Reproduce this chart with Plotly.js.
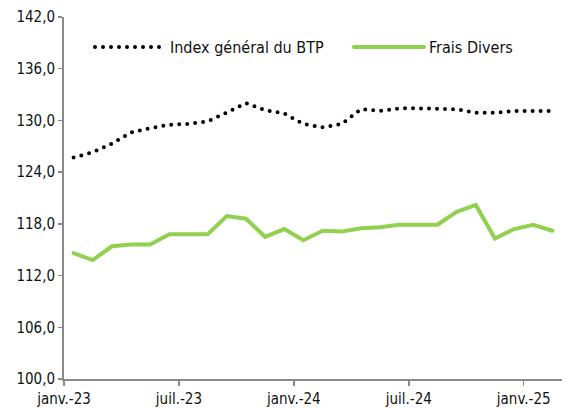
<!DOCTYPE html>
<html>
<head>
<meta charset="utf-8">
<script src="https://cdn.plot.ly/plotly-3.0.1.min.js"></script>
<style>
  html, body { margin: 0; padding: 0; background: #fff; }
  #chart { width: 566px; height: 408px; }
  path.js-line { stroke-linecap: round; }
</style>
</head>
<body>
<div id="chart"></div>
<script>
// Months: janv. 2023 -> févr. 2025
const months = ["2023-01","2023-02","2023-03","2023-04","2023-05","2023-06","2023-07","2023-08","2023-09","2023-10","2023-11","2023-12",
                "2024-01","2024-02","2024-03","2024-04","2024-05","2024-06","2024-07","2024-08","2024-09","2024-10","2024-11","2024-12",
                "2025-01","2025-02"];
const indexBTP = [125.7,126.3,127.3,128.6,129.1,129.5,129.6,129.9,130.9,132.0,131.2,130.8,
                  129.6,129.2,129.6,131.3,131.1,131.4,131.4,131.4,131.3,130.9,130.9,131.1,
                  131.1,131.1];
const fraisDivers = [114.6,113.8,115.4,115.6,115.6,116.8,116.8,116.8,118.9,118.6,116.5,117.4,
                     116.1,117.2,117.1,117.5,117.6,117.9,117.9,117.9,119.4,120.2,116.3,117.4,
                     117.9,117.2];
const tickLabels = ["janv.-23","juil.-23","janv.-24","juil.-24","janv.-25"];
const tickMonths = ["2023-01","2023-07","2024-01","2024-07","2025-01"];
const seriesNames = ["Index général du BTP","Frais Divers"];

const xIdx = months.map((m, i) => i);
// ticks sit on the boundary before each labelled month
const tickVals = tickMonths.map(m => months.indexOf(m) - 0.5);

const FONT = "'DejaVu Sans Condensed', 'DejaVu Sans', sans-serif";
const AXIS = "#8a8a8a";
const TEXT = "#111111";

const traces = [
  { x: xIdx, y: indexBTP, name: seriesNames[0], type: "scatter", mode: "lines",
    line: { color: "#000000", width: 4, dash: "0px,8px" }, legend: "legend", hoverinfo: "skip" },
  { x: xIdx, y: fraisDivers, name: seriesNames[1], type: "scatter", mode: "lines",
    line: { color: "#92D050", width: 4 }, legend: "legend2", hoverinfo: "skip" }
];

const W = 566, H = 408, ml = 64, mr = 4, mt = 17, mb = 29;
const pw = W - ml - mr, ph = H - mt - mb;
const legendBase = { orientation: "h", bgcolor: "rgba(0,0,0,0)", borderwidth: 0,
  font: { family: FONT, size: 16, color: TEXT }, itemwidth: 70,
  xanchor: "left", yanchor: "middle", y: (H - mb - 47) / ph };

const layout = {
  width: W, height: H,
  margin: { l: ml, r: mr, t: mt, b: mb, pad: 0 },
  paper_bgcolor: "#fff", plot_bgcolor: "#fff",
  separators: ", ",
  font: { family: FONT, size: 15, color: TEXT },
  showlegend: true,
  legend: Object.assign({}, legendBase, { x: (90 - ml) / pw }),
  legend2: Object.assign({}, legendBase, { x: (349 - ml) / pw }),
  xaxis: {
    range: [-0.5, months.length - 0.5], tickmode: "array", tickvals: tickVals, ticktext: tickLabels,
    showgrid: false, zeroline: false, showline: true, linecolor: AXIS, linewidth: 2,
    ticks: "outside", ticklen: 5, tickcolor: AXIS, tickwidth: 1.5,
    tickfont: { family: FONT, size: 15, color: TEXT }, fixedrange: true
  },
  yaxis: {
    range: [100, 142], tick0: 100, dtick: 6, tickformat: ".1f",
    showgrid: false, zeroline: false, showline: true, linecolor: AXIS, linewidth: 2,
    ticks: "outside", ticklen: 4, tickcolor: AXIS, tickwidth: 1.5,
    tickfont: { family: FONT, size: 15, color: TEXT }, fixedrange: true
  },
  hovermode: false
};

Plotly.newPlot("chart", traces, layout, { displayModeBar: false, staticPlot: true });
</script>
</body>
</html>
